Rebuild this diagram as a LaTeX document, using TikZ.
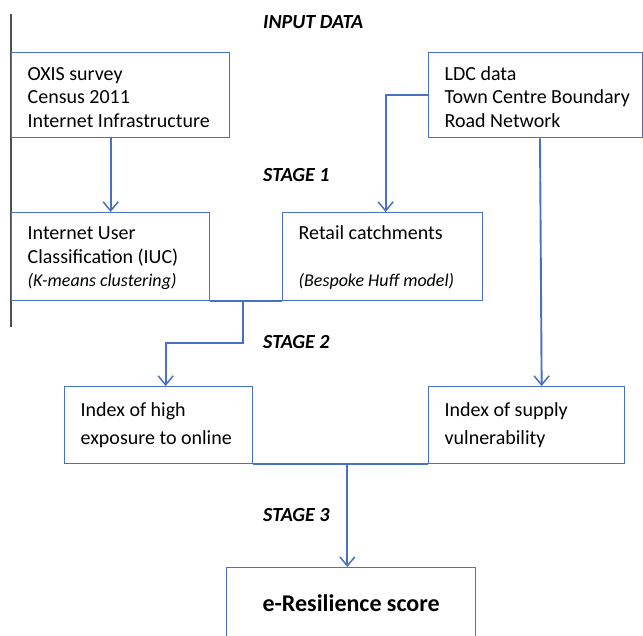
\documentclass[tikz,border=0pt]{standalone}
\usepackage{fontspec}
\setmainfont{Carlito}
\usetikzlibrary{arrows.meta,calc}
\definecolor{flowblue}{RGB}{72,112,196}
\definecolor{rulegray}{RGB}{80,80,80}

% left-aligned lines in a box of fixed width
\newcommand{\leftlines}[2]{\makebox[#1][l]{\begin{tabular}[c]{@{}l@{}}#2\end{tabular}}}
% lower the contents while keeping their reported size
\newcommand{\lowerby}[2]{\raisebox{-#1}[\height][\depth]{#2}}

\begin{document}
\begin{tikzpicture}[x=1pt,y=-1pt,
  box/.style={draw=flowblue, line width=1.3pt, anchor=north west,
    inner xsep=16pt, inner ysep=0pt, font=\fontsize{20}{23.5}\selectfont},
  stagelabel/.style={anchor=west, inner sep=0pt,
    font=\fontsize{20}{24}\selectfont\bfseries\itshape},
  link/.style={draw=flowblue, line width=1.9pt},
  arr/.style={link, -{Straight Barb[length=9pt,width=15pt,line width=1.5pt]}}
]
\useasboundingbox (0,0) rectangle (643,635);

% grey rule along the left margin
\draw[rulegray, line width=1.1pt] (11,14) -- (11,327);

% input data
\node[box, minimum width=218pt, minimum height=85pt] (oxis) at (11,52)
  {\lowerby{4pt}{\leftlines{186pt}{OXIS survey\\Census 2011\\Internet Infrastructure}}};
\node[box, minimum width=214pt, minimum height=85pt] (ldc) at (428,52)
  {\lowerby{4pt}{\leftlines{182pt}{LDC data\\Town Centre Boundary\\Road Network}}};

% stage 1
\node[box, minimum width=198pt, minimum height=88pt] (iuc) at (11,212)
  {\lowerby{2pt}{\leftlines{166pt}{Internet User\\Classification (IUC)\\{\fontsize{18}{23.5}\selectfont\itshape (K-means clustering)}}}};
\node[box, minimum width=200pt, minimum height=88pt] (retail) at (282,212)
  {\lowerby{2pt}{\leftlines{168pt}{Retail catchments\\[23.5pt]{\fontsize{18}{23.5}\selectfont\itshape (Bespoke Huff model)}}}};

% stage 2
\node[box, minimum width=188pt, minimum height=77pt,
  font=\fontsize{20}{28}\selectfont] (high) at (64,386)
  {\leftlines{156pt}{Index of high\\exposure to online}};
\node[box, minimum width=196pt, minimum height=77pt,
  font=\fontsize{20}{28}\selectfont] (supply) at (428,386)
  {\leftlines{164pt}{Index of supply\\vulnerability}};

% stage 3
\node[box, minimum width=249pt, minimum height=72pt,
  font=\fontsize{24}{28}\selectfont\bfseries] (eres) at (226,567)
  {e-Resilience score};

% stage headings
\node[stagelabel] (lin) at (263,22) {INPUT DATA};
\node[stagelabel] (ls1) at (263,175) {STAGE 1};
\node[stagelabel] (ls2) at (263,342) {STAGE 2};
\node[stagelabel] (ls3) at (263,515) {STAGE 3};

% connectors
\draw[arr] (iuc.north |- oxis.south) -- (iuc.north);
\draw[arr] (ldc.west) -| ($(retail.north)+(3,0)$);
\coordinate (ldcout) at ($(ldc.south west)+(112,0)$);
\draw[arr] (ldcout) -- ($(supply.north)+(15,0)$);

\draw[link] (iuc.south east) -- (retail.south west);
\coordinate (join1) at ($(iuc.south east)+(33,0)$);
\coordinate (bend1) at ($(join1)+(0,42)$);
\draw[arr] (join1) -- (bend1) -| ($(high.north)+(7,0)$);

\draw[link] (high.south east) -- (supply.south west);
\coordinate (join2) at ($(high.south east)+(94,0)$);
\draw[arr] (join2) -- (join2 |- eres.north);
\end{tikzpicture}
\end{document}
